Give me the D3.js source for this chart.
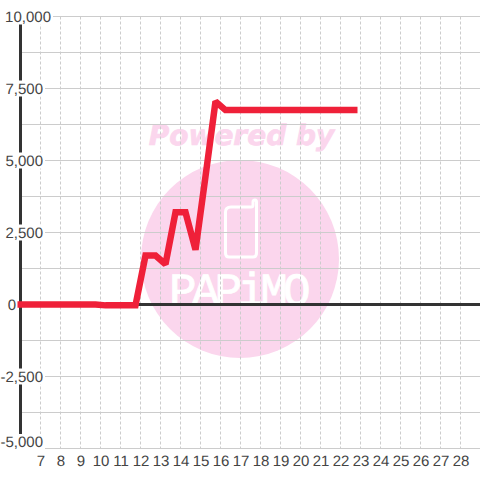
<!DOCTYPE html>
<html>
<head>
<meta charset="utf-8">
<script src="https://cdn.jsdelivr.net/npm/d3@7"></script>
<style>
html, body { margin: 0; padding: 0; background: #fff; }
svg { display: block; }
text { font-family: "Liberation Sans", Arial, sans-serif; font-size: 15px; fill: #444; text-rendering: geometricPrecision; }
.grid-h { stroke: #ccc; stroke-width: 1; }
.grid-v { stroke: #ccc; stroke-width: 1; stroke-dasharray: 3 2; }
.axis-line { stroke: #333; stroke-width: 3; }
.series { fill: none; stroke: #ef2039; stroke-width: 6.5; stroke-linejoin: miter; stroke-miterlimit: 1.9; }
</style>
</head>
<body>
<script>
const width = 480, height = 480;

const xTicks = [7, 8, 9, 10, 11, 12, 13, 14, 15, 16, 17, 18, 19, 20, 21, 22, 23, 24, 25, 26, 27, 28];
const yTicks = [-5000, -2500, 0, 2500, 5000, 7500, 10000];
const yMinorTicks = [-3750, -1250, 1250, 3750, 6250, 8750];

const days = [5.85, 6.25, 6.75, 7.25, 7.75, 8.25, 8.75, 9.25, 9.75, 10.25, 10.75, 11.25, 11.75,
    12.25, 12.75, 13.25, 13.75, 14.25, 14.75, 15.25, 15.75, 16.25, 16.75, 17.25, 17.75,
    18.25, 18.75, 19.25, 19.75, 20.25, 20.75, 21.25, 21.75, 22.25, 22.85];
const values = [0, 0, 0, 0, 0, 0, 0, 0, 0, -30, -30, -30, -30,
    1700, 1700, 1400, 3200, 3200, 1900, 4450, 7050, 6750, 6750, 6750, 6750,
    6750, 6750, 6750, 6750, 6750, 6750, 6750, 6750, 6750, 6750];

const svg = d3.select("body").append("svg")
.attr("width", width)
.attr("height", height);

const scaleX = d3.scaleLinear()
.domain([7, 28])
.range([40.5, 460.5]);

const scaleY = d3.scaleLinear()
.domain([10000, -5000])
.range([16.5, 448.5]);

// watermark sits under the grid
const mark = svg.append("g");
mark.append("circle")
.attr("cx", 240)
.attr("cy", 259)
.attr("r", 99)
.attr("fill", "#fbd6ed");
mark.append("text")
.attr("x", 241.5)
.attr("y", 145)
.attr("text-anchor", "middle")
.style("font-family", "DejaVu Sans")
.style("font-weight", "bold")
.style("font-style", "italic")
.style("font-size", "28px")
.style("fill", "#fbd6ed")
.style("stroke", "#fbd6ed")
.style("stroke-width", 0.7)
.text("Powered by");
mark.append("path")
.attr("d", "M231 207 H251 Q253 207 253 205 V202 Q253 200 255 200 Q256.5 200 256.5 202 V253 Q256.5 257 253 257 H229 Q225.5 257 225.5 253 V212 Q225.5 207 231 207 Z")
.attr("fill", "none")
.attr("stroke", "#fff")
.attr("stroke-width", 3);
mark.append("text")
.attr("x", 169)
.attr("y", 305)
.style("font-family", "Liberation Mono")
.style("font-size", "46px")
.style("letter-spacing", "-4.8px")
.style("fill", "#fff")
.style("stroke", "#fff")
.style("stroke-width", 0.8)
.text("PAPiMO");

// grid
svg.append("g").selectAll("line")
.data(yTicks.concat(yMinorTicks))
.enter()
.append("line")
.attr("class", "grid-h")
.attr("x1", 20)
.attr("x2", width)
.attr("y1", (d) => Math.floor(scaleY(d)) + 0.5)
.attr("y2", (d) => Math.floor(scaleY(d)) + 0.5);

svg.append("g").selectAll("line")
.data(xTicks)
.enter()
.append("line")
.attr("class", "grid-v")
.attr("x1", (d) => scaleX(d))
.attr("x2", (d) => scaleX(d))
.attr("y1", scaleY(10000))
.attr("y2", scaleY(-5000));

// axes
svg.append("line")
.attr("class", "axis-line")
.attr("x1", 20.5)
.attr("x2", 20.5)
.attr("y1", scaleY(10000))
.attr("y2", scaleY(-5000));
svg.append("line")
.attr("class", "axis-line")
.attr("x1", 20)
.attr("x2", width)
.attr("y1", scaleY(0))
.attr("y2", scaleY(0));

// y labels sit on white boxes which cut the grid and the axis
const fmt = d3.format(",");
const labelRight = (d) => d === 0 ? 16 : d === 10000 ? 51 : 43;
const labelY = (d) => d === -5000 ? scaleY(d) - 6.5 : scaleY(d);

const yLabels = svg.append("g").selectAll("g")
.data(yTicks)
.enter()
.append("g");
yLabels.append("text")
.attr("x", labelRight)
.attr("y", labelY)
.attr("dy", "0.36em")
.attr("text-anchor", "end")
.text((d) => fmt(d).replace("−", "-"));
yLabels.each(function() {
    const g = d3.select(this);
    const box = g.select("text").node().getBBox();
    g.insert("rect", "text")
    .attr("x", box.x - 1)
    .attr("y", labelY(g.datum()) - 8)
    .attr("width", box.width + 3)
    .attr("height", 16)
    .attr("fill", "#fff");
});

svg.append("g").selectAll("text")
.data(xTicks)
.enter()
.append("text")
.attr("x", (d) => scaleX(d) + 0.5)
.attr("y", 466)
.attr("text-anchor", "middle")
.text((d) => d);

const line = d3.line()
.x((d, i) => scaleX(days[i]))
.y((d) => scaleY(d));

svg.append("path")
.attr("class", "series")
.attr("d", line(values));
</script>
</body>
</html>
